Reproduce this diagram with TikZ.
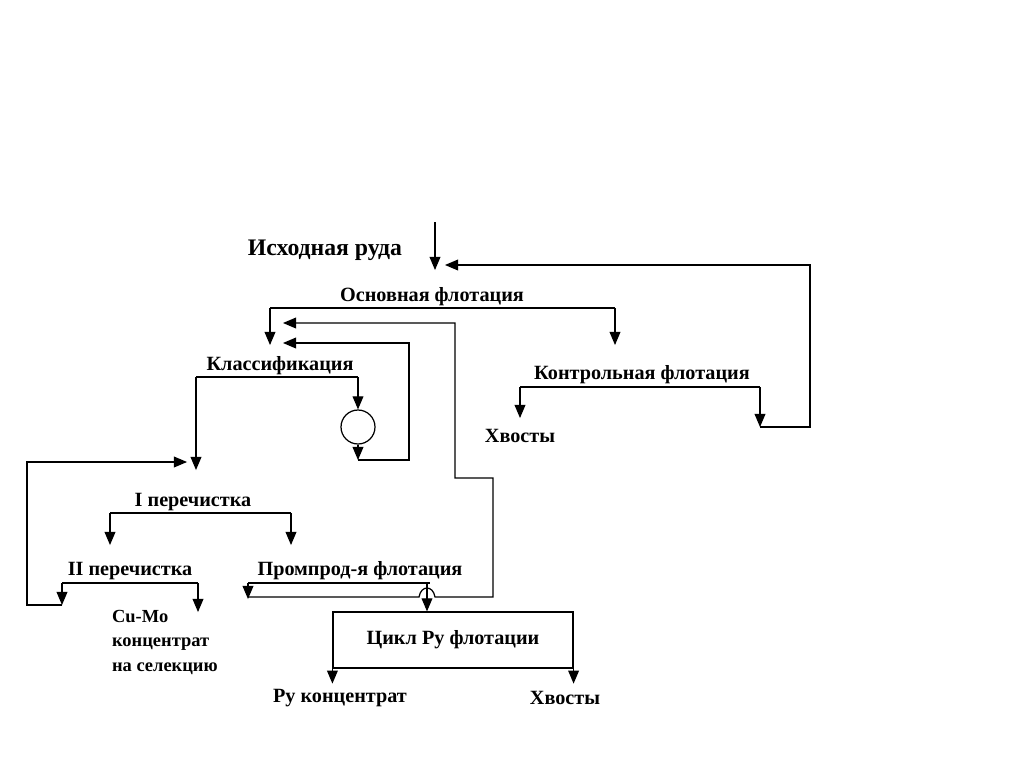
\documentclass[tikz,border=0pt]{standalone}
\usepackage{fontspec}
\setmainfont{Liberation Serif}
\usetikzlibrary{arrows,calc,positioning}
\tikzstyle{flow} =[->, >=triangle 45, line width=0.7pt]
\tikzstyle{line} =[line width=0.7pt]
\tikzstyle{stage}=[inner sep=1pt, font=\bfseries\fontsize{11.5}{13}\selectfont]
\tikzstyle{big}  =[inner sep=1pt, font=\bfseries\fontsize{13.5}{15}\selectfont]
\begin{document}
\begin{tikzpicture}[x=0.02cm, y=-0.02cm]
            \useasboundingbox (0,0) rectangle (1024,768);
            \node (ore) [big] at (325,250) {Исходная руда};
            \node (main) [stage] at (432,297) {Основная флотация};
            \node (cls) [stage] at (280,366) {Классификация};
            \node (ctl) [stage] at (642,375) {Контрольная флотация};
            \node (tl1) [stage] at (520,436) {Хвосты};
            \node (mill) [circle, draw, line width=0.7pt, minimum size=34\pgflinewidth, inner sep=0pt, minimum size=0.68cm] at (358,427) {};
            \node (cl1) [stage] at (193,502) {I перечистка};
            \node (cl2) [stage] at (130,571) {II перечистка};
            \node (mid) [stage] at (360,571) {Промпрод-я флотация};
            \node (cumo) [stage, align=left, anchor=north west, font=\bfseries\fontsize{10.5}{14}\selectfont] at (110,608) {Cu-Mo\\концентрат\\на селекцию};
            \node (py) [stage, draw, line width=0.7pt, minimum width=4.8cm, minimum height=1.12cm] at (453,640) {Цикл Py флотации};
            \node (pyc) [stage] at (340,698) {Py концентрат};
            \node (tl2) [stage] at (565,698) {Хвосты};
            % feed and scavenger return
            \coordinate (in) at (435,222);
            \coordinate (ret) at (760,427);
            \draw[flow] (in) -- (435,270);
            \draw[flow] (ret) -- (810,427) -- (810,265) -- (445,265);
            % rougher
            \draw[line] (270,308) -- (615,308);
            \draw[flow] (270,308) -- (270,345);
            \draw[flow] (615,308) -- (615,345);
            % scavenger
            \draw[line] (520,387) -- (760,387);
            \draw[flow] (520,387) -- (520,418);
            \draw[flow] (760,387) -- (ret);
            % classification and mill loop
            \draw[line] (196,377) -- (358,377);
            \draw[flow] (196,377) -- (196,470);
            \draw[flow] (358,377) -- (mill.north);
            \draw[flow] (mill.south) -- (358,460);
            \draw[flow] (358,460) -- (409,460) -- (409,343) -- (283,343);
            % cleanings
            \draw[line] (110,513) -- (291,513);
            \draw[flow] (110,513) -- (110,545);
            \draw[flow] (291,513) -- (291,545);
            \draw[line] (62,583) -- (198,583);
            \draw[flow] (62,583) -- (62,605);
            \draw[flow] (198,583) -- (198,612);
            \draw[flow] (62,605) -- (27,605) -- (27,462) -- (187,462);
            % middlings flotation
            \draw[line] (248,583) -- (430,583);
            \draw[flow] (248,583) -- (248,599);
            \draw[flow] (427,583) -- (py.north -| 427,0);
            \draw[flow] (248,597) -- (419,597) .. controls (421,585) and (433,585) .. (435,597)
                -- (493,597) -- (493,478) -- (455,478) -- (455,323) -- (283,323);
            % Py cycle products
            \draw[flow] (py.south west) -- ++(0,15);
            \draw[flow] (py.south east) -- ++(0,15);
        \end{tikzpicture}
\end{document}
